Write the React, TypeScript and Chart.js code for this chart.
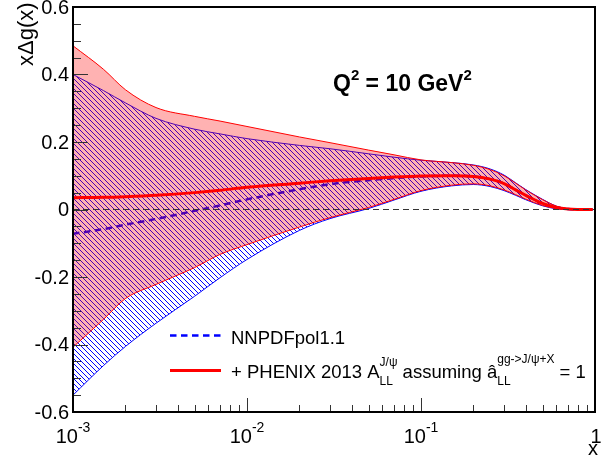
import React, { useEffect, useRef } from "react";
import { Chart, registerables } from "chart.js";

Chart.register(...registerables);

// ---- data ----
const xValues = [0.001, 0.0015, 0.002, 0.003, 0.005, 0.007, 0.01, 0.02, 0.03, 0.05, 0.07, 0.1, 0.15, 0.2, 0.25, 0.3, 0.35, 0.4, 0.5, 0.6, 0.7, 0.8, 0.97];

const blueUpper = [0.40, 0.352, 0.316, 0.27, 0.238, 0.224, 0.21, 0.19, 0.18, 0.165, 0.155, 0.146, 0.139, 0.132, 0.12, 0.102, 0.079, 0.059, 0.03, 0.01, 0.002, 0.0003, 0];
const blueLower = [-0.55, -0.462, -0.406, -0.337, -0.257, -0.202, -0.148, -0.062, -0.027, 0.003, 0.028, 0.054, 0.07, 0.074, 0.068, 0.056, 0.042, 0.029, 0.011, 0.002, 0.0003, 0, 0];
const blueCentral = [-0.072, -0.058, -0.045, -0.028, -0.004, 0.012, 0.03, 0.06, 0.075, 0.087, 0.093, 0.098, 0.1, 0.098, 0.09, 0.077, 0.058, 0.042, 0.018, 0.006, 0.0015, 0.0003, 0];

const redUpper = [0.485, 0.415, 0.355, 0.302, 0.276, 0.262, 0.246, 0.215, 0.198, 0.176, 0.162, 0.147, 0.139, 0.131, 0.118, 0.1, 0.078, 0.058, 0.029, 0.01, 0.002, 0.0004, 0];
const redLower = [-0.408, -0.325, -0.264, -0.222, -0.172, -0.133, -0.104, -0.052, -0.024, 0.006, 0.03, 0.056, 0.072, 0.076, 0.07, 0.058, 0.044, 0.031, 0.012, 0.003, 0.0005, 0, 0];
const redCentral = [0.035, 0.036, 0.038, 0.042, 0.05, 0.057, 0.066, 0.078, 0.085, 0.092, 0.096, 0.099, 0.1, 0.098, 0.09, 0.077, 0.058, 0.042, 0.018, 0.006, 0.0015, 0.0003, 0];

const zeroLineX = [0.001, 1];
const zeroLineY = [0, 0];

const yMajorTicks = [-0.6, -0.4, -0.2, 0, 0.2, 0.4, 0.6];
const yTickLabels = ["-0.6", "-0.4", "-0.2", "0", "0.2", "0.4", "0.6"];
const xMajorTicks = [0.001, 0.01, 0.1, 1];
const xTickBase = ["10", "10", "10", "1"];
const xTickExp = ["-3", "-2", "-1", ""];

const legendLabel1 = "NNPDFpol1.1";
const yTitle = "xΔg(x)";
const xTitle = "x";

const FONT = '"Liberation Sans", Arial, Helvetica, sans-serif';

const pts = (xs: number[], ys: number[]) => xs.map((x, i) => ({ x, y: ys[i] }));

type Part = { t: string; size: number; dy: number; bold?: boolean; overlay?: boolean };

function drawRich(ctx: CanvasRenderingContext2D, x0: number, y: number, parts: Part[], align: "left" | "center" = "left") {
  const widths = parts.map((p) => {
    ctx.font = `${p.bold ? "bold " : ""}${p.size}px ${FONT}`;
    return ctx.measureText(p.t).width;
  });
  let total = 0;
  let lastW = 0;
  parts.forEach((p, i) => {
    if (p.overlay) {
      const extra = Math.max(0, widths[i] - lastW);
      total += extra;
      lastW = Math.max(lastW, widths[i]);
    } else {
      total += widths[i];
      lastW = widths[i];
    }
  });
  let x = align === "center" ? x0 - total / 2 : x0;
  let lastStart = x;
  lastW = 0;
  ctx.textAlign = "left";
  ctx.textBaseline = "alphabetic";
  parts.forEach((p, i) => {
    ctx.font = `${p.bold ? "bold " : ""}${p.size}px ${FONT}`;
    if (p.overlay) {
      ctx.fillText(p.t, lastStart, y + p.dy);
      const w = Math.max(lastW, widths[i]);
      x = lastStart + w;
      lastW = w;
    } else {
      ctx.fillText(p.t, x, y + p.dy);
      lastStart = x;
      lastW = widths[i];
      x += widths[i];
    }
  });
}

const decorPlugin = {
  id: "rootDecor",
  afterDraw(chart: any) {
    const ctx: CanvasRenderingContext2D = chart.ctx;
    const xs = chart.scales.x;
    const ys = chart.scales.y;
    const { left, right, top, bottom } = chart.chartArea;
    ctx.save();

    // ticks
    ctx.strokeStyle = "#333";
    ctx.lineWidth = 1;
    ctx.beginPath();
    for (let k = -12; k <= 12; k++) {
      const v = k * 0.05;
      const py = Math.round(ys.getPixelForValue(v)) + 0.5;
      const len = k % 4 === 0 ? 15 : 8;
      ctx.moveTo(left, py);
      ctx.lineTo(left + len, py);
    }
    for (let d = -3; d < 0; d++) {
      for (let m = 1; m <= 9; m++) {
        const v = m * Math.pow(10, d);
        const px = Math.round(xs.getPixelForValue(v)) + 0.5;
        const len = m === 1 ? 14 : 7;
        ctx.moveTo(px, bottom);
        ctx.lineTo(px, bottom - len);
      }
    }
    ctx.stroke();

    // frame
    ctx.strokeStyle = "#000";
    ctx.lineWidth = 2;
    ctx.strokeRect(left, top, right - left, bottom - top);

    ctx.fillStyle = "#000";
    // y tick labels
    ctx.font = `20px ${FONT}`;
    ctx.textAlign = "right";
    ctx.textBaseline = "middle";
    yMajorTicks.forEach((v, i) => {
      ctx.fillText(yTickLabels[i], left - 4, ys.getPixelForValue(v) + 1);
    });
    // x tick labels
    xMajorTicks.forEach((v, i) => {
      const px = xs.getPixelForValue(v);
      const parts: Part[] = [{ t: xTickBase[i], size: 20, dy: 0 }];
      if (xTickExp[i]) parts.push({ t: xTickExp[i], size: 14, dy: -11 });
      drawRich(ctx, px + (xTickExp[i] ? 0 : 1), 443, parts, "center");
    });

    // axis titles
    ctx.font = `20px ${FONT}`;
    ctx.textAlign = "right";
    ctx.textBaseline = "alphabetic";
    ctx.fillText(xTitle, 598, 455);
    ctx.save();
    ctx.translate(33, 66);
    ctx.rotate(-Math.PI / 2);
    ctx.font = `22px ${FONT}`;
    ctx.textAlign = "left";
    ctx.fillText(yTitle, 0, 0);
    ctx.restore();

    // Q^2 label
    drawRich(ctx, 333, 91, [
      { t: "Q", size: 23, dy: 0, bold: true },
      { t: "2", size: 15, dy: -11, bold: true },
      { t: " = 10 GeV", size: 23, dy: 0, bold: true },
      { t: "2", size: 15, dy: -11, bold: true },
    ]);

    // legend
    ctx.lineWidth = 2.5;
    ctx.strokeStyle = "#0000ff";
    ctx.setLineDash([6.5, 4.5]);
    ctx.beginPath();
    ctx.moveTo(170, 335.5);
    ctx.lineTo(221, 335.5);
    ctx.stroke();
    ctx.setLineDash([]);
    ctx.lineWidth = 3;
    ctx.strokeStyle = "#ff0000";
    ctx.beginPath();
    ctx.moveTo(170, 370.5);
    ctx.lineTo(221, 370.5);
    ctx.stroke();

    ctx.fillStyle = "#000";
    drawRich(ctx, 231, 344, [{ t: legendLabel1, size: 18.5, dy: 0 }]);
    drawRich(ctx, 231, 378, [
      { t: "+ PHENIX 2013 A", size: 18.5, dy: 0 },
      { t: "LL", size: 12, dy: 7 },
      { t: "J/ψ", size: 12, dy: -12.5, overlay: true },
      { t: " assuming ", size: 18.5, dy: 0 },
      { t: "â", size: 18.5, dy: 0 },
      { t: "LL", size: 12, dy: 7 },
      { t: "gg->J/ψ+X", size: 12, dy: -15, overlay: true },
      { t: " = 1", size: 18.5, dy: 0 },
    ]);

    ctx.restore();
  },
};

function makeHatch(): CanvasPattern | string {
  const c = document.createElement("canvas");
  c.width = 5;
  c.height = 5;
  const g = c.getContext("2d");
  if (!g) return "rgba(0,0,255,0.3)";
  g.fillStyle = "#0000ff";
  for (let i = 0; i < 5; i++) g.fillRect(i, i, 1, 1);
  return g.createPattern(c, "repeat") || "rgba(0,0,255,0.3)";
}

export default function App() {
  const ref = useRef<HTMLCanvasElement | null>(null);
  useEffect(() => {
    if (!ref.current) return;
    const hatch = makeHatch();
    const common = { pointRadius: 0, cubicInterpolationMode: "monotone" as const, fill: false };
    const chart = new Chart(ref.current, {
      type: "line",
      data: {
        datasets: [
          { ...common, label: "zero", data: pts(zeroLineX, zeroLineY), borderColor: "#333", borderWidth: 1, borderDash: [6, 4], order: 0 },
          { ...common, label: "blueLow", data: pts(xValues, blueLower), borderColor: "#0000ff", borderWidth: 1, order: 10 },
          { ...common, label: "blueUp", data: pts(xValues, blueUpper), borderColor: "#0000ff", borderWidth: 1, fill: "-1", backgroundColor: hatch as any, order: 9 },
          { ...common, label: "NNPDFpol1.1", data: pts(xValues, blueCentral), borderColor: "#0000ff", borderWidth: 2.5, borderDash: [6.5, 4.5], order: 8 },
          { ...common, label: "redLow", data: pts(xValues, redLower), borderColor: "#ff0000", borderWidth: 1, order: 7 },
          { ...common, label: "redUp", data: pts(xValues, redUpper), borderColor: "#ff0000", borderWidth: 1, fill: "-1", backgroundColor: "rgba(255,0,0,0.3)", order: 6 },
          { ...common, label: "PHENIX", data: pts(xValues, redCentral), borderColor: "#ff0000", borderWidth: 3, order: 5 },
        ],
      },
      options: {
        animation: false,
        responsive: true,
        maintainAspectRatio: false,
        events: [],
        layout: { padding: { left: 73, right: 18, top: 7, bottom: 47 } },
        scales: {
          x: { type: "logarithmic", min: 0.001, max: 1, display: false },
          y: { type: "linear", min: -0.6, max: 0.6, display: false },
        },
        plugins: {
          legend: { display: false },
          tooltip: { enabled: false },
        },
      },
      plugins: [decorPlugin],
    });
    return () => chart.destroy();
  }, []);

  return (
    <div style={{ position: "fixed", left: 0, top: 0, width: 613, height: 459, background: "#fff" }}>
      <canvas ref={ref} />
    </div>
  );
}
